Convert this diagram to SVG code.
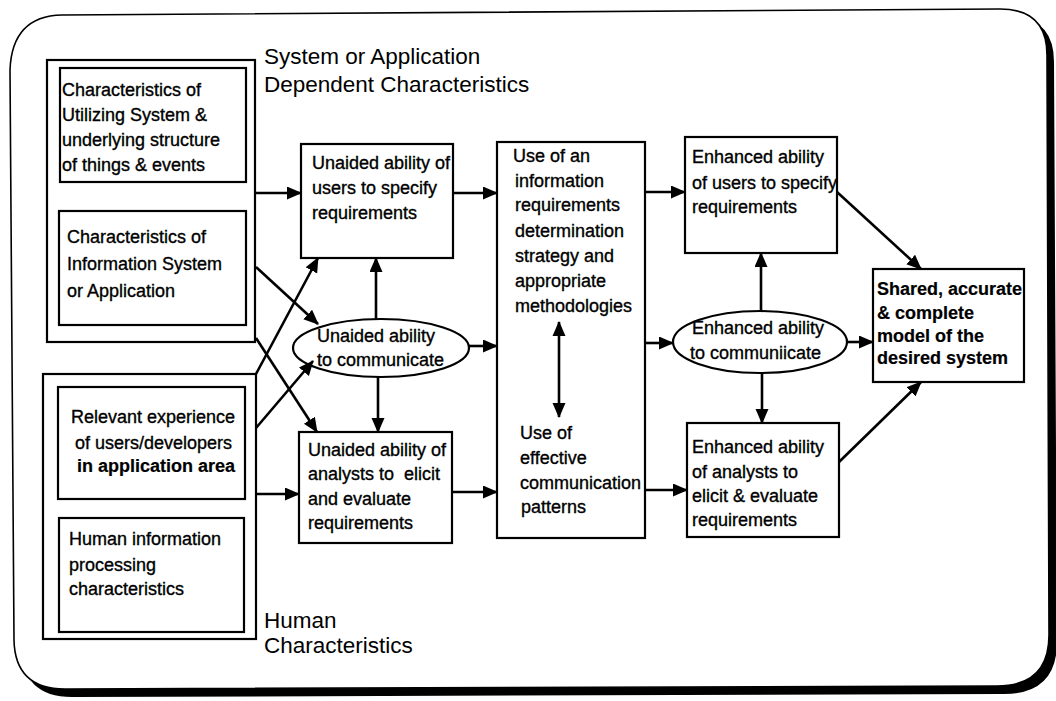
<svg xmlns="http://www.w3.org/2000/svg" width="1056" height="701" viewBox="0 0 1056 701">
<style>
.box{fill:#fff;stroke:#000;stroke-width:2.2}
.frame{fill:#fff;stroke:#000;stroke-width:1.6}
.t{font-family:"Liberation Sans",Arial,sans-serif;font-size:18px;fill:#000;stroke:#000;stroke-width:0.35}
.b{font-weight:bold;stroke-width:0.2}
.title{font-family:"Liberation Sans",Arial,sans-serif;font-size:22.5px;fill:#000}
.ln{stroke:#000;stroke-width:2.6;fill:none}
</style>
<defs>
<marker id="ah" markerUnits="userSpaceOnUse" markerWidth="16" markerHeight="14" refX="14" refY="6.5" orient="auto">
<path d="M0,0 L15,6.5 L0,13 z" fill="#000"/>
</marker>
<marker id="as" markerUnits="userSpaceOnUse" markerWidth="16" markerHeight="14" refX="1" refY="6.5" orient="auto">
<path d="M15,0 L0,6.5 L15,13 z" fill="#000"/>
</marker>
</defs>
<g id="frame">
<path d="M17,77 Q19,22 69,22 L1007,16 Q1054,16 1054,62 L1057,642 Q1057,694 1004,694 L72,697 Q22,697 21,647 Z" fill="#000"/>
<path class="frame" d="M10,70 Q12,16 62,15 L1000,9 Q1047,9 1047,55 L1049,635 Q1049,686 997,686 L65,689 Q15,689 14,640 Z"/>
</g>
<g id="sysgroup">
<rect class="box" x="47" y="60" width="208" height="282"/>
<text class="title" x="264" y="64">System or Application</text>
<text class="title" x="264" y="92">Dependent Characteristics</text>
</g>
<g id="util">
<rect class="box" x="60" y="68" width="186" height="114"/>
<text class="t" x="62" y="96">Characteristics of</text>
<text class="t" x="62" y="121">Utilizing System &amp;</text>
<text class="t" x="62" y="146">underlying structure</text>
<text class="t" x="62" y="171">of things &amp; events</text>
</g>
<g id="infosys">
<rect class="box" x="59" y="211" width="187" height="114"/>
<text class="t" x="67" y="243">Characteristics of</text>
<text class="t" x="67" y="270">Information System</text>
<text class="t" x="67" y="297">or Application</text>
</g>
<g id="humangroup">
<rect class="box" x="43" y="374" width="213" height="265"/>
<text class="title" x="264" y="628">Human</text>
<text class="title" x="264" y="653">Characteristics</text>
</g>
<g id="experience">
<rect class="box" x="58" y="387" width="187" height="112"/>
<text class="t" x="71" y="423">Relevant experience</text>
<text class="t" x="75" y="449">of users/developers</text>
<text class="t b" x="77" y="472">in application area</text>
</g>
<g id="hip">
<rect class="box" x="59" y="518" width="185" height="114"/>
<text class="t" x="69" y="545">Human information</text>
<text class="t" x="69" y="571">processing</text>
<text class="t" x="69" y="595">characteristics</text>
</g>
<g id="u_users">
<rect class="box" x="301" y="144" width="152" height="114"/>
<text class="t" x="312" y="169">Unaided ability of</text>
<text class="t" x="312" y="194">users to specify</text>
<text class="t" x="312" y="219">requirements</text>
</g>
<g id="u_comm">
<ellipse class="box" cx="381" cy="348" rx="88" ry="29"/>
<text class="t" x="317" y="342">Unaided ability</text>
<text class="t" x="317" y="366">to communicate</text>
</g>
<g id="u_analysts">
<rect class="box" x="299" y="432" width="153" height="111"/>
<text class="t" x="308" y="456">Unaided ability of</text>
<text class="t" x="308" y="480" xml:space="preserve">analysts to  elicit</text>
<text class="t" x="308" y="505">and evaluate</text>
<text class="t" x="308" y="529">requirements</text>
</g>
<g id="strategy">
<rect class="box" x="497" y="142" width="148" height="396"/>
<text class="t" x="513" y="162">Use of an</text>
<text class="t" x="515" y="187">information</text>
<text class="t" x="515" y="211">requirements</text>
<text class="t" x="515" y="237">determination</text>
<text class="t" x="515" y="262">strategy and</text>
<text class="t" x="515" y="287">appropriate</text>
<text class="t" x="515" y="312">methodologies</text>
<text class="t" x="520" y="439">Use of</text>
<text class="t" x="520" y="464">effective</text>
<text class="t" x="520" y="489">communication</text>
<text class="t" x="521" y="513">patterns</text>
</g>
<g id="e_users">
<rect class="box" x="685" y="137" width="152" height="116"/>
<text class="t" x="692" y="163">Enhanced ability</text>
<text class="t" x="692" y="189">of users to specify</text>
<text class="t" x="692" y="213">requirements</text>
</g>
<g id="e_comm">
<ellipse class="box" cx="760" cy="342" rx="87" ry="31"/>
<text class="t" x="692" y="334">Enhanced ability</text>
<text class="t" x="690" y="359">to communiicate</text>
</g>
<g id="e_analysts">
<rect class="box" x="687" y="423" width="152" height="114"/>
<text class="t" x="692" y="453">Enhanced ability</text>
<text class="t" x="692" y="478">of analysts to</text>
<text class="t" x="692" y="502">elicit &amp; evaluate</text>
<text class="t" x="692" y="526">requirements</text>
</g>
<g id="model">
<rect class="box" x="873" y="269" width="151" height="113"/>
<text class="t b" x="877" y="295">Shared, accurate</text>
<text class="t b" x="877" y="319">&amp; complete</text>
<text class="t b" x="877" y="342">model of the</text>
<text class="t b" x="877" y="364">desired system</text>
</g>
<g id="connectors">
<line class="ln" x1="256" y1="193" x2="301" y2="193" marker-end="url(#ah)"/>
<line class="ln" x1="453" y1="193" x2="497" y2="193" marker-end="url(#ah)"/>
<line class="ln" x1="256" y1="267" x2="318" y2="324" marker-end="url(#ah)"/>
<line class="ln" x1="256" y1="338" x2="317" y2="432" marker-end="url(#ah)"/>
<line class="ln" x1="256" y1="374" x2="318" y2="258" marker-end="url(#ah)"/>
<line class="ln" x1="256" y1="428" x2="313" y2="361" marker-end="url(#ah)"/>
<line class="ln" x1="256" y1="494" x2="299" y2="494" marker-end="url(#ah)"/>
<line class="ln" x1="376" y1="319" x2="376" y2="258" marker-end="url(#ah)"/>
<line class="ln" x1="378" y1="377" x2="378" y2="432" marker-end="url(#ah)"/>
<line class="ln" x1="469" y1="346" x2="497" y2="346" marker-end="url(#ah)"/>
<line class="ln" x1="452" y1="492" x2="497" y2="492" marker-end="url(#ah)"/>
<line class="ln" x1="645" y1="192" x2="685" y2="192" marker-end="url(#ah)"/>
<line class="ln" x1="645" y1="343" x2="673" y2="343" marker-end="url(#ah)"/>
<line class="ln" x1="645" y1="490" x2="687" y2="490" marker-end="url(#ah)"/>
<line class="ln" x1="761" y1="311" x2="761" y2="253" marker-end="url(#ah)"/>
<line class="ln" x1="762" y1="373" x2="762" y2="423" marker-end="url(#ah)"/>
<line class="ln" x1="847" y1="342" x2="873" y2="342" marker-end="url(#ah)"/>
<line class="ln" x1="837" y1="192" x2="921" y2="269" marker-end="url(#ah)"/>
<line class="ln" x1="839" y1="462" x2="921" y2="382" marker-end="url(#ah)"/>
<line class="ln" x1="559" y1="322" x2="559" y2="417" marker-start="url(#as)" marker-end="url(#ah)"/>
</g>
</svg>
